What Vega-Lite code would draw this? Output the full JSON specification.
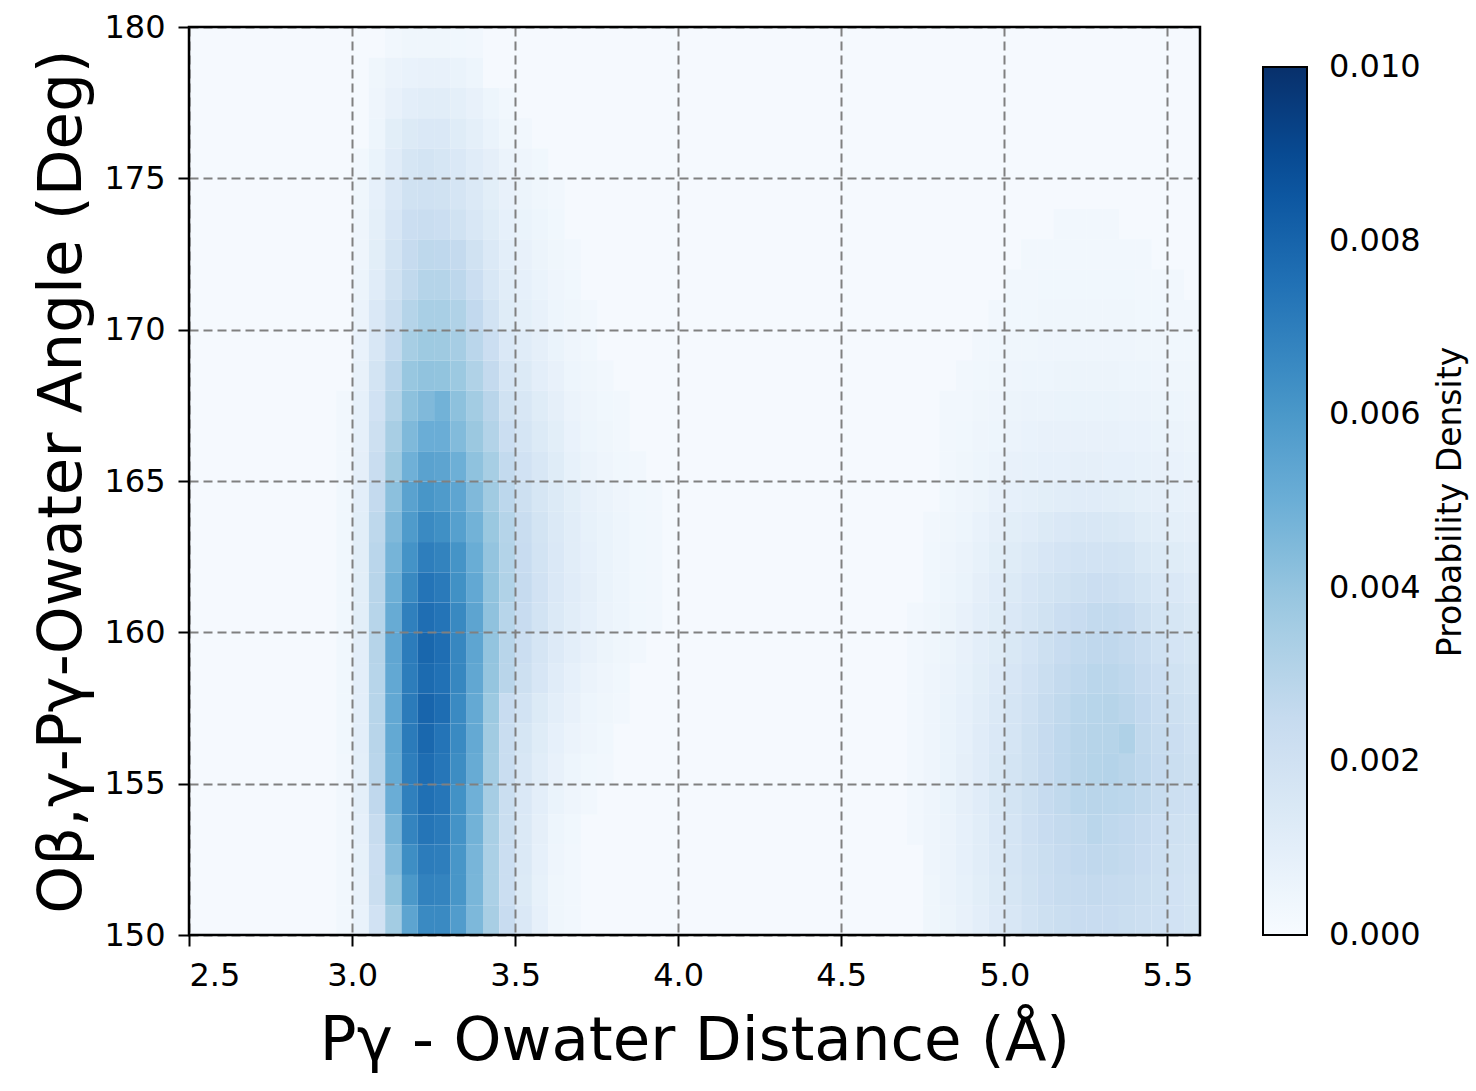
{
"$schema": "https://vega.github.io/schema/vega-lite/v6.json",
"width": 1011, "height": 908,
"autosize": "none",
"padding": {"left": 189, "top": 27, "right": 276, "bottom": 156},
"background": "white",
"config": {"font": "DejaVu Sans", "view": {"fill": "#f5f9fe", "stroke": "#000000", "strokeWidth": 2.5}, "style": {"cell": {"strokeForeground": true}}},
"data": {"values": [
{"x":3.1,"y":179,"v":0.0003},{"x":3.15,"y":179,"v":0.0004},{"x":3.2,"y":179,"v":0.0004},{"x":3.25,"y":179,"v":0.0004},{"x":3.3,"y":179,"v":0.00035},{"x":3.35,"y":179,"v":0.0003},
{"x":3.05,"y":178,"v":0.0004},{"x":3.1,"y":178,"v":0.0006},{"x":3.15,"y":178,"v":0.0007},{"x":3.2,"y":178,"v":0.00075},{"x":3.25,"y":178,"v":0.00075},{"x":3.3,"y":178,"v":0.00065},{"x":3.35,"y":178,"v":0.0005},
{"x":3.05,"y":177,"v":0.00045},{"x":3.1,"y":177,"v":0.00075},{"x":3.15,"y":177,"v":0.001},{"x":3.2,"y":177,"v":0.0011},{"x":3.25,"y":177,"v":0.0011},{"x":3.3,"y":177,"v":0.00095},{"x":3.35,"y":177,"v":0.00075},{"x":3.4,"y":177,"v":0.0005},{"x":3.45,"y":177,"v":0.0003},
{"x":3.05,"y":176,"v":0.0005},{"x":3.1,"y":176,"v":0.00105},{"x":3.15,"y":176,"v":0.00135},{"x":3.2,"y":176,"v":0.00146},{"x":3.25,"y":176,"v":0.00146},{"x":3.3,"y":176,"v":0.0012},{"x":3.35,"y":176,"v":0.00095},{"x":3.4,"y":176,"v":0.00065},{"x":3.45,"y":176,"v":0.0004},{"x":3.5,"y":176,"v":0.0003},
{"x":3.0,"y":175,"v":0.0003},{"x":3.05,"y":175,"v":0.00065},{"x":3.1,"y":175,"v":0.00115},{"x":3.15,"y":175,"v":0.00167},{"x":3.2,"y":175,"v":0.0018},{"x":3.25,"y":175,"v":0.00167},{"x":3.3,"y":175,"v":0.00146},{"x":3.35,"y":175,"v":0.00115},{"x":3.4,"y":175,"v":0.0009},{"x":3.45,"y":175,"v":0.0006},{"x":3.5,"y":175,"v":0.00045},{"x":3.55,"y":175,"v":0.00035},
{"x":3.0,"y":174,"v":0.0004},{"x":3.05,"y":174,"v":0.00085},{"x":3.1,"y":174,"v":0.00146},{"x":3.15,"y":174,"v":0.00198},{"x":3.2,"y":174,"v":0.00203},{"x":3.25,"y":174,"v":0.00198},{"x":3.3,"y":174,"v":0.00172},{"x":3.35,"y":174,"v":0.0014},{"x":3.4,"y":174,"v":0.00105},{"x":3.45,"y":174,"v":0.00075},{"x":3.5,"y":174,"v":0.00055},{"x":3.55,"y":174,"v":0.0004},{"x":3.6,"y":174,"v":0.0003},
{"x":3.0,"y":173,"v":0.00045},{"x":3.05,"y":173,"v":0.00095},{"x":3.1,"y":173,"v":0.00162},{"x":3.15,"y":173,"v":0.00224},{"x":3.2,"y":173,"v":0.00234},{"x":3.25,"y":173,"v":0.00224},{"x":3.3,"y":173,"v":0.00198},{"x":3.35,"y":173,"v":0.00156},{"x":3.4,"y":173,"v":0.0012},{"x":3.45,"y":173,"v":0.00085},{"x":3.5,"y":173,"v":0.00065},{"x":3.55,"y":173,"v":0.0005},{"x":3.6,"y":173,"v":0.00035},
{"x":3.0,"y":172,"v":0.00045},{"x":3.05,"y":172,"v":0.00105},{"x":3.1,"y":172,"v":0.00182},{"x":3.15,"y":172,"v":0.0025},{"x":3.2,"y":172,"v":0.00275},{"x":3.25,"y":172,"v":0.00272},{"x":3.3,"y":172,"v":0.00256},{"x":3.35,"y":172,"v":0.00198},{"x":3.4,"y":172,"v":0.0014},{"x":3.45,"y":172,"v":0.001},{"x":3.5,"y":172,"v":0.00075},{"x":3.55,"y":172,"v":0.00055},{"x":3.6,"y":172,"v":0.0004},{"x":3.65,"y":172,"v":0.0003},
{"x":3.0,"y":171,"v":0.00055},{"x":3.05,"y":171,"v":0.00115},{"x":3.1,"y":171,"v":0.00198},{"x":3.15,"y":171,"v":0.00266},{"x":3.2,"y":171,"v":0.00303},{"x":3.25,"y":171,"v":0.00303},{"x":3.3,"y":171,"v":0.00278},{"x":3.35,"y":171,"v":0.00224},{"x":3.4,"y":171,"v":0.00156},{"x":3.45,"y":171,"v":0.0011},{"x":3.5,"y":171,"v":0.00085},{"x":3.55,"y":171,"v":0.00065},{"x":3.6,"y":171,"v":0.00045},{"x":3.65,"y":171,"v":0.00035},
{"x":3.0,"y":170,"v":0.0006},{"x":3.05,"y":170,"v":0.00146},{"x":3.1,"y":170,"v":0.00229},{"x":3.15,"y":170,"v":0.00303},{"x":3.2,"y":170,"v":0.00341},{"x":3.25,"y":170,"v":0.00341},{"x":3.3,"y":170,"v":0.00319},{"x":3.35,"y":170,"v":0.00263},{"x":3.4,"y":170,"v":0.00188},{"x":3.45,"y":170,"v":0.0012},{"x":3.5,"y":170,"v":0.00095},{"x":3.55,"y":170,"v":0.00075},{"x":3.6,"y":170,"v":0.0005},{"x":3.65,"y":170,"v":0.0004},{"x":3.7,"y":170,"v":0.0003},
{"x":3.0,"y":169,"v":0.0007},{"x":3.05,"y":169,"v":0.00156},{"x":3.1,"y":169,"v":0.0026},{"x":3.15,"y":169,"v":0.00347},{"x":3.2,"y":169,"v":0.00375},{"x":3.25,"y":169,"v":0.00372},{"x":3.3,"y":169,"v":0.0035},{"x":3.35,"y":169,"v":0.00288},{"x":3.4,"y":169,"v":0.00224},{"x":3.45,"y":169,"v":0.00146},{"x":3.5,"y":169,"v":0.00115},{"x":3.55,"y":169,"v":0.0009},{"x":3.6,"y":169,"v":0.00065},{"x":3.65,"y":169,"v":0.00045},{"x":3.7,"y":169,"v":0.00035},
{"x":3.0,"y":168,"v":0.00075},{"x":3.05,"y":168,"v":0.00182},{"x":3.1,"y":168,"v":0.00288},{"x":3.15,"y":168,"v":0.0039},{"x":3.2,"y":168,"v":0.00407},{"x":3.25,"y":168,"v":0.00404},{"x":3.3,"y":168,"v":0.0038},{"x":3.35,"y":168,"v":0.00319},{"x":3.4,"y":168,"v":0.00256},{"x":3.45,"y":168,"v":0.00172},{"x":3.5,"y":168,"v":0.00135},{"x":3.55,"y":168,"v":0.001},{"x":3.6,"y":168,"v":0.00075},{"x":3.65,"y":168,"v":0.0005},{"x":3.7,"y":168,"v":0.0004},{"x":3.75,"y":168,"v":0.0003},
{"x":2.95,"y":167,"v":0.0003},{"x":3.0,"y":167,"v":0.00085},{"x":3.05,"y":167,"v":0.00193},{"x":3.1,"y":167,"v":0.00309},{"x":3.15,"y":167,"v":0.00417},{"x":3.2,"y":167,"v":0.00449},{"x":3.25,"y":167,"v":0.00483},{"x":3.3,"y":167,"v":0.00417},{"x":3.35,"y":167,"v":0.00359},{"x":3.4,"y":167,"v":0.00291},{"x":3.45,"y":167,"v":0.00198},{"x":3.5,"y":167,"v":0.00156},{"x":3.55,"y":167,"v":0.0012},{"x":3.6,"y":167,"v":0.0009},{"x":3.65,"y":167,"v":0.0006},{"x":3.7,"y":167,"v":0.00045},{"x":3.75,"y":167,"v":0.00035},{"x":3.8,"y":167,"v":0.0003},
{"x":2.95,"y":166,"v":0.0003},{"x":3.0,"y":166,"v":0.00085},{"x":3.05,"y":166,"v":0.00214},{"x":3.1,"y":166,"v":0.00344},{"x":3.15,"y":166,"v":0.00451},{"x":3.2,"y":166,"v":0.00503},{"x":3.25,"y":166,"v":0.00503},{"x":3.3,"y":166,"v":0.00444},{"x":3.35,"y":166,"v":0.00382},{"x":3.4,"y":166,"v":0.00309},{"x":3.45,"y":166,"v":0.00224},{"x":3.5,"y":166,"v":0.00172},{"x":3.55,"y":166,"v":0.00135},{"x":3.6,"y":166,"v":0.00105},{"x":3.65,"y":166,"v":0.0007},{"x":3.7,"y":166,"v":0.0005},{"x":3.75,"y":166,"v":0.0004},{"x":3.8,"y":166,"v":0.0003},
{"x":2.95,"y":165,"v":0.0003},{"x":3.0,"y":165,"v":0.0009},{"x":3.05,"y":165,"v":0.00234},{"x":3.1,"y":165,"v":0.00372},{"x":3.15,"y":165,"v":0.0049},{"x":3.2,"y":165,"v":0.00552},{"x":3.25,"y":165,"v":0.00543},{"x":3.3,"y":165,"v":0.00495},{"x":3.35,"y":165,"v":0.00412},{"x":3.4,"y":165,"v":0.00347},{"x":3.45,"y":165,"v":0.0026},{"x":3.5,"y":165,"v":0.00193},{"x":3.55,"y":165,"v":0.00156},{"x":3.6,"y":165,"v":0.0012},{"x":3.65,"y":165,"v":0.0008},{"x":3.7,"y":165,"v":0.0006},{"x":3.75,"y":165,"v":0.00045},{"x":3.8,"y":165,"v":0.00035},{"x":3.85,"y":165,"v":0.0003},
{"x":2.95,"y":164,"v":0.00035},{"x":3.0,"y":164,"v":0.001},{"x":3.05,"y":164,"v":0.00256},{"x":3.1,"y":164,"v":0.00419},{"x":3.15,"y":164,"v":0.00552},{"x":3.2,"y":164,"v":0.00607},{"x":3.25,"y":164,"v":0.00585},{"x":3.3,"y":164,"v":0.0054},{"x":3.35,"y":164,"v":0.00449},{"x":3.4,"y":164,"v":0.00366},{"x":3.45,"y":164,"v":0.00281},{"x":3.5,"y":164,"v":0.00214},{"x":3.55,"y":164,"v":0.00167},{"x":3.6,"y":164,"v":0.00135},{"x":3.65,"y":164,"v":0.00105},{"x":3.7,"y":164,"v":0.00075},{"x":3.75,"y":164,"v":0.0006},{"x":3.8,"y":164,"v":0.00045},{"x":3.85,"y":164,"v":0.00035},{"x":3.9,"y":164,"v":0.0003},
{"x":2.95,"y":163,"v":0.00035},{"x":3.0,"y":163,"v":0.00105},{"x":3.05,"y":163,"v":0.00275},{"x":3.1,"y":163,"v":0.00449},{"x":3.15,"y":163,"v":0.00585},{"x":3.2,"y":163,"v":0.00655},{"x":3.25,"y":163,"v":0.00633},{"x":3.3,"y":163,"v":0.00564},{"x":3.35,"y":163,"v":0.00483},{"x":3.4,"y":163,"v":0.00385},{"x":3.45,"y":163,"v":0.00303},{"x":3.5,"y":163,"v":0.00234},{"x":3.55,"y":163,"v":0.00182},{"x":3.6,"y":163,"v":0.0014},{"x":3.65,"y":163,"v":0.0011},{"x":3.7,"y":163,"v":0.0008},{"x":3.75,"y":163,"v":0.00065},{"x":3.8,"y":163,"v":0.0005},{"x":3.85,"y":163,"v":0.00035},{"x":3.9,"y":163,"v":0.0003},
{"x":2.95,"y":162,"v":0.00035},{"x":3.0,"y":162,"v":0.00105},{"x":3.05,"y":162,"v":0.00288},{"x":3.1,"y":162,"v":0.00473},{"x":3.15,"y":162,"v":0.00619},{"x":3.2,"y":162,"v":0.00701},{"x":3.25,"y":162,"v":0.00682},{"x":3.3,"y":162,"v":0.00616},{"x":3.35,"y":162,"v":0.00506},{"x":3.4,"y":162,"v":0.004},{"x":3.45,"y":162,"v":0.00309},{"x":3.5,"y":162,"v":0.0024},{"x":3.55,"y":162,"v":0.00188},{"x":3.6,"y":162,"v":0.00146},{"x":3.65,"y":162,"v":0.0011},{"x":3.7,"y":162,"v":0.00085},{"x":3.75,"y":162,"v":0.00065},{"x":3.8,"y":162,"v":0.0005},{"x":3.85,"y":162,"v":0.00035},{"x":3.9,"y":162,"v":0.0003},
{"x":2.95,"y":161,"v":0.00035},{"x":3.0,"y":161,"v":0.00105},{"x":3.05,"y":161,"v":0.00294},{"x":3.1,"y":161,"v":0.00495},{"x":3.15,"y":161,"v":0.00659},{"x":3.2,"y":161,"v":0.00738},{"x":3.25,"y":161,"v":0.00716},{"x":3.3,"y":161,"v":0.00629},{"x":3.35,"y":161,"v":0.00527},{"x":3.4,"y":161,"v":0.00407},{"x":3.45,"y":161,"v":0.00319},{"x":3.5,"y":161,"v":0.0025},{"x":3.55,"y":161,"v":0.00193},{"x":3.6,"y":161,"v":0.00146},{"x":3.65,"y":161,"v":0.00115},{"x":3.7,"y":161,"v":0.0009},{"x":3.75,"y":161,"v":0.00065},{"x":3.8,"y":161,"v":0.0005},{"x":3.85,"y":161,"v":0.00035},{"x":3.9,"y":161,"v":0.0003},
{"x":2.95,"y":160,"v":0.00035},{"x":3.0,"y":160,"v":0.00105},{"x":3.05,"y":160,"v":0.00297},{"x":3.1,"y":160,"v":0.00512},{"x":3.15,"y":160,"v":0.00693},{"x":3.2,"y":160,"v":0.0076},{"x":3.25,"y":160,"v":0.00738},{"x":3.3,"y":160,"v":0.00659},{"x":3.35,"y":160,"v":0.00543},{"x":3.4,"y":160,"v":0.00409},{"x":3.45,"y":160,"v":0.00297},{"x":3.5,"y":160,"v":0.0024},{"x":3.55,"y":160,"v":0.00188},{"x":3.6,"y":160,"v":0.0014},{"x":3.65,"y":160,"v":0.0011},{"x":3.7,"y":160,"v":0.00085},{"x":3.75,"y":160,"v":0.0006},{"x":3.8,"y":160,"v":0.0005},{"x":3.85,"y":160,"v":0.00035},{"x":3.9,"y":160,"v":0.0003},
{"x":2.95,"y":159,"v":0.00035},{"x":3.0,"y":159,"v":0.001},{"x":3.05,"y":159,"v":0.003},{"x":3.1,"y":159,"v":0.00534},{"x":3.15,"y":159,"v":0.00708},{"x":3.2,"y":159,"v":0.0079},{"x":3.25,"y":159,"v":0.0076},{"x":3.3,"y":159,"v":0.00667},{"x":3.35,"y":159,"v":0.0054},{"x":3.4,"y":159,"v":0.00402},{"x":3.45,"y":159,"v":0.00294},{"x":3.5,"y":159,"v":0.00224},{"x":3.55,"y":159,"v":0.00172},{"x":3.6,"y":159,"v":0.0013},{"x":3.65,"y":159,"v":0.001},{"x":3.7,"y":159,"v":0.00075},{"x":3.75,"y":159,"v":0.00055},{"x":3.8,"y":159,"v":0.0004},{"x":3.85,"y":159,"v":0.0003},
{"x":2.95,"y":158,"v":0.00035},{"x":3.0,"y":158,"v":0.001},{"x":3.05,"y":158,"v":0.00297},{"x":3.1,"y":158,"v":0.00527},{"x":3.15,"y":158,"v":0.00705},{"x":3.2,"y":158,"v":0.00775},{"x":3.25,"y":158,"v":0.0075},{"x":3.3,"y":158,"v":0.00667},{"x":3.35,"y":158,"v":0.0053},{"x":3.4,"y":158,"v":0.00397},{"x":3.45,"y":158,"v":0.00291},{"x":3.5,"y":158,"v":0.00214},{"x":3.55,"y":158,"v":0.00162},{"x":3.6,"y":158,"v":0.00115},{"x":3.65,"y":158,"v":0.00085},{"x":3.7,"y":158,"v":0.0006},{"x":3.75,"y":158,"v":0.00045},{"x":3.8,"y":158,"v":0.00035},
{"x":2.95,"y":157,"v":0.00035},{"x":3.0,"y":157,"v":0.001},{"x":3.05,"y":157,"v":0.00297},{"x":3.1,"y":157,"v":0.00527},{"x":3.15,"y":157,"v":0.00712},{"x":3.2,"y":157,"v":0.00795},{"x":3.25,"y":157,"v":0.00765},{"x":3.3,"y":157,"v":0.00655},{"x":3.35,"y":157,"v":0.00521},{"x":3.4,"y":157,"v":0.0038},{"x":3.45,"y":157,"v":0.0024},{"x":3.5,"y":157,"v":0.00188},{"x":3.55,"y":157,"v":0.00135},{"x":3.6,"y":157,"v":0.001},{"x":3.65,"y":157,"v":0.00075},{"x":3.7,"y":157,"v":0.0005},{"x":3.75,"y":157,"v":0.0004},{"x":3.8,"y":157,"v":0.0003},
{"x":2.95,"y":156,"v":0.00035},{"x":3.0,"y":156,"v":0.001},{"x":3.05,"y":156,"v":0.00294},{"x":3.1,"y":156,"v":0.00524},{"x":3.15,"y":156,"v":0.00712},{"x":3.2,"y":156,"v":0.00785},{"x":3.25,"y":156,"v":0.00738},{"x":3.3,"y":156,"v":0.00655},{"x":3.35,"y":156,"v":0.00521},{"x":3.4,"y":156,"v":0.00366},{"x":3.45,"y":156,"v":0.00234},{"x":3.5,"y":156,"v":0.00167},{"x":3.55,"y":156,"v":0.0012},{"x":3.6,"y":156,"v":0.00085},{"x":3.65,"y":156,"v":0.0006},{"x":3.7,"y":156,"v":0.00045},{"x":3.75,"y":156,"v":0.00035},
{"x":2.95,"y":155,"v":0.0003},{"x":3.0,"y":155,"v":0.00095},{"x":3.05,"y":155,"v":0.00288},{"x":3.1,"y":155,"v":0.00515},{"x":3.15,"y":155,"v":0.00701},{"x":3.2,"y":155,"v":0.00765},{"x":3.25,"y":155,"v":0.00731},{"x":3.3,"y":155,"v":0.00644},{"x":3.35,"y":155,"v":0.00512},{"x":3.4,"y":155,"v":0.00359},{"x":3.45,"y":155,"v":0.00234},{"x":3.5,"y":155,"v":0.00156},{"x":3.55,"y":155,"v":0.0011},{"x":3.6,"y":155,"v":0.00075},{"x":3.65,"y":155,"v":0.0005},{"x":3.7,"y":155,"v":0.00035},{"x":3.75,"y":155,"v":0.0003},
{"x":2.95,"y":154,"v":0.0003},{"x":3.0,"y":154,"v":0.00095},{"x":3.05,"y":154,"v":0.00269},{"x":3.1,"y":154,"v":0.00503},{"x":3.15,"y":154,"v":0.00693},{"x":3.2,"y":154,"v":0.00755},{"x":3.25,"y":154,"v":0.00731},{"x":3.3,"y":154,"v":0.00625},{"x":3.35,"y":154,"v":0.0049},{"x":3.4,"y":154,"v":0.0035},{"x":3.45,"y":154,"v":0.00229},{"x":3.5,"y":154,"v":0.00146},{"x":3.55,"y":154,"v":0.001},{"x":3.6,"y":154,"v":0.00065},{"x":3.65,"y":154,"v":0.00045},{"x":3.7,"y":154,"v":0.0003},
{"x":2.95,"y":153,"v":0.0003},{"x":3.0,"y":153,"v":0.00085},{"x":3.05,"y":153,"v":0.00245},{"x":3.1,"y":153,"v":0.00463},{"x":3.15,"y":153,"v":0.00678},{"x":3.2,"y":153,"v":0.00734},{"x":3.25,"y":153,"v":0.00716},{"x":3.3,"y":153,"v":0.00619},{"x":3.35,"y":153,"v":0.00483},{"x":3.4,"y":153,"v":0.00341},{"x":3.45,"y":153,"v":0.00229},{"x":3.5,"y":153,"v":0.0014},{"x":3.55,"y":153,"v":0.0009},{"x":3.6,"y":153,"v":0.0005},{"x":3.65,"y":153,"v":0.00035},
{"x":2.95,"y":152,"v":0.0003},{"x":3.0,"y":152,"v":0.0008},{"x":3.05,"y":152,"v":0.00224},{"x":3.1,"y":152,"v":0.00436},{"x":3.15,"y":152,"v":0.0064},{"x":3.2,"y":152,"v":0.00708},{"x":3.25,"y":152,"v":0.00701},{"x":3.3,"y":152,"v":0.00607},{"x":3.35,"y":152,"v":0.00468},{"x":3.4,"y":152,"v":0.00334},{"x":3.45,"y":152,"v":0.00224},{"x":3.5,"y":152,"v":0.0014},{"x":3.55,"y":152,"v":0.00085},{"x":3.6,"y":152,"v":0.00045},{"x":3.65,"y":152,"v":0.0003},
{"x":2.95,"y":151,"v":0.0003},{"x":3.0,"y":151,"v":0.00075},{"x":3.05,"y":151,"v":0.00229},{"x":3.1,"y":151,"v":0.00404},{"x":3.15,"y":151,"v":0.00598},{"x":3.2,"y":151,"v":0.00686},{"x":3.25,"y":151,"v":0.00678},{"x":3.3,"y":151,"v":0.00607},{"x":3.35,"y":151,"v":0.00466},{"x":3.4,"y":151,"v":0.00334},{"x":3.45,"y":151,"v":0.00224},{"x":3.5,"y":151,"v":0.00135},{"x":3.55,"y":151,"v":0.0008},{"x":3.6,"y":151,"v":0.0004},{"x":3.65,"y":151,"v":0.0003},
{"x":2.95,"y":150,"v":0.0003},{"x":3.0,"y":150,"v":0.0007},{"x":3.05,"y":150,"v":0.00193},{"x":3.1,"y":150,"v":0.00359},{"x":3.15,"y":150,"v":0.00543},{"x":3.2,"y":150,"v":0.00655},{"x":3.25,"y":150,"v":0.00655},{"x":3.3,"y":150,"v":0.00579},{"x":3.35,"y":150,"v":0.00456},{"x":3.4,"y":150,"v":0.00344},{"x":3.45,"y":150,"v":0.0024},{"x":3.5,"y":150,"v":0.00146},{"x":3.55,"y":150,"v":0.00085},{"x":3.6,"y":150,"v":0.0004},{"x":3.65,"y":150,"v":0.0003},
{"x":5.15,"y":173,"v":0.0003},{"x":5.2,"y":173,"v":0.0003},{"x":5.25,"y":173,"v":0.0003},{"x":5.3,"y":173,"v":0.0003},
{"x":5.05,"y":172,"v":0.0003},{"x":5.1,"y":172,"v":0.0003},{"x":5.15,"y":172,"v":0.0003},{"x":5.2,"y":172,"v":0.0003},{"x":5.25,"y":172,"v":0.0003},{"x":5.3,"y":172,"v":0.0003},{"x":5.35,"y":172,"v":0.0003},{"x":5.4,"y":172,"v":0.0003},
{"x":5.0,"y":171,"v":0.0003},{"x":5.05,"y":171,"v":0.0003},{"x":5.1,"y":171,"v":0.00035},{"x":5.15,"y":171,"v":0.00035},{"x":5.2,"y":171,"v":0.00035},{"x":5.25,"y":171,"v":0.00035},{"x":5.3,"y":171,"v":0.00035},{"x":5.35,"y":171,"v":0.00035},{"x":5.4,"y":171,"v":0.0003},{"x":5.45,"y":171,"v":0.0003},{"x":5.5,"y":171,"v":0.0003},
{"x":4.95,"y":170,"v":0.0003},{"x":5.0,"y":170,"v":0.00035},{"x":5.05,"y":170,"v":0.00035},{"x":5.1,"y":170,"v":0.0004},{"x":5.15,"y":170,"v":0.0004},{"x":5.2,"y":170,"v":0.0004},{"x":5.25,"y":170,"v":0.0004},{"x":5.3,"y":170,"v":0.0004},{"x":5.35,"y":170,"v":0.0004},{"x":5.4,"y":170,"v":0.00035},{"x":5.45,"y":170,"v":0.00035},{"x":5.5,"y":170,"v":0.0003},{"x":5.55,"y":170,"v":0.0003},
{"x":4.9,"y":169,"v":0.0003},{"x":4.95,"y":169,"v":0.00035},{"x":5.0,"y":169,"v":0.0004},{"x":5.05,"y":169,"v":0.0004},{"x":5.1,"y":169,"v":0.00045},{"x":5.15,"y":169,"v":0.00045},{"x":5.2,"y":169,"v":0.00045},{"x":5.25,"y":169,"v":0.00045},{"x":5.3,"y":169,"v":0.00045},{"x":5.35,"y":169,"v":0.00045},{"x":5.4,"y":169,"v":0.0004},{"x":5.45,"y":169,"v":0.0004},{"x":5.5,"y":169,"v":0.00035},{"x":5.55,"y":169,"v":0.00035},
{"x":4.85,"y":168,"v":0.0003},{"x":4.9,"y":168,"v":0.00035},{"x":4.95,"y":168,"v":0.0004},{"x":5.0,"y":168,"v":0.00045},{"x":5.05,"y":168,"v":0.0005},{"x":5.1,"y":168,"v":0.0005},{"x":5.15,"y":168,"v":0.00055},{"x":5.2,"y":168,"v":0.00055},{"x":5.25,"y":168,"v":0.00055},{"x":5.3,"y":168,"v":0.00055},{"x":5.35,"y":168,"v":0.0005},{"x":5.4,"y":168,"v":0.0005},{"x":5.45,"y":168,"v":0.00045},{"x":5.5,"y":168,"v":0.0004},{"x":5.55,"y":168,"v":0.0004},
{"x":4.8,"y":167,"v":0.0003},{"x":4.85,"y":167,"v":0.0003},{"x":4.9,"y":167,"v":0.0004},{"x":4.95,"y":167,"v":0.00045},{"x":5.0,"y":167,"v":0.00055},{"x":5.05,"y":167,"v":0.0006},{"x":5.1,"y":167,"v":0.0006},{"x":5.15,"y":167,"v":0.00065},{"x":5.2,"y":167,"v":0.00065},{"x":5.25,"y":167,"v":0.00065},{"x":5.3,"y":167,"v":0.00065},{"x":5.35,"y":167,"v":0.0006},{"x":5.4,"y":167,"v":0.0006},{"x":5.45,"y":167,"v":0.00055},{"x":5.5,"y":167,"v":0.0005},{"x":5.55,"y":167,"v":0.00045},
{"x":4.8,"y":166,"v":0.0003},{"x":4.85,"y":166,"v":0.00035},{"x":4.9,"y":166,"v":0.00045},{"x":4.95,"y":166,"v":0.0005},{"x":5.0,"y":166,"v":0.0006},{"x":5.05,"y":166,"v":0.0007},{"x":5.1,"y":166,"v":0.00075},{"x":5.15,"y":166,"v":0.00075},{"x":5.2,"y":166,"v":0.00075},{"x":5.25,"y":166,"v":0.00075},{"x":5.3,"y":166,"v":0.00075},{"x":5.35,"y":166,"v":0.0007},{"x":5.4,"y":166,"v":0.0007},{"x":5.45,"y":166,"v":0.00065},{"x":5.5,"y":166,"v":0.0006},{"x":5.55,"y":166,"v":0.00055},
{"x":4.8,"y":165,"v":0.0003},{"x":4.85,"y":165,"v":0.0004},{"x":4.9,"y":165,"v":0.0005},{"x":4.95,"y":165,"v":0.0006},{"x":5.0,"y":165,"v":0.00075},{"x":5.05,"y":165,"v":0.0008},{"x":5.1,"y":165,"v":0.00085},{"x":5.15,"y":165,"v":0.00085},{"x":5.2,"y":165,"v":0.0009},{"x":5.25,"y":165,"v":0.0009},{"x":5.3,"y":165,"v":0.00085},{"x":5.35,"y":165,"v":0.00085},{"x":5.4,"y":165,"v":0.0008},{"x":5.45,"y":165,"v":0.00075},{"x":5.5,"y":165,"v":0.0007},{"x":5.55,"y":165,"v":0.00065},
{"x":4.8,"y":164,"v":0.00035},{"x":4.85,"y":164,"v":0.00045},{"x":4.9,"y":164,"v":0.00055},{"x":4.95,"y":164,"v":0.00075},{"x":5.0,"y":164,"v":0.00085},{"x":5.05,"y":164,"v":0.00095},{"x":5.1,"y":164,"v":0.00105},{"x":5.15,"y":164,"v":0.0011},{"x":5.2,"y":164,"v":0.00115},{"x":5.25,"y":164,"v":0.00115},{"x":5.3,"y":164,"v":0.0011},{"x":5.35,"y":164,"v":0.00105},{"x":5.4,"y":164,"v":0.00095},{"x":5.45,"y":164,"v":0.0009},{"x":5.5,"y":164,"v":0.0008},{"x":5.55,"y":164,"v":0.00075},
{"x":4.75,"y":163,"v":0.0003},{"x":4.8,"y":163,"v":0.0004},{"x":4.85,"y":163,"v":0.0005},{"x":4.9,"y":163,"v":0.0007},{"x":4.95,"y":163,"v":0.0009},{"x":5.0,"y":163,"v":0.00105},{"x":5.05,"y":163,"v":0.00115},{"x":5.1,"y":163,"v":0.00135},{"x":5.15,"y":163,"v":0.00146},{"x":5.2,"y":163,"v":0.00156},{"x":5.25,"y":163,"v":0.00156},{"x":5.3,"y":163,"v":0.00151},{"x":5.35,"y":163,"v":0.0014},{"x":5.4,"y":163,"v":0.0012},{"x":5.45,"y":163,"v":0.0011},{"x":5.5,"y":163,"v":0.00095},{"x":5.55,"y":163,"v":0.0009},
{"x":4.75,"y":162,"v":0.00035},{"x":4.8,"y":162,"v":0.00045},{"x":4.85,"y":162,"v":0.0006},{"x":4.9,"y":162,"v":0.0008},{"x":4.95,"y":162,"v":0.00105},{"x":5.0,"y":162,"v":0.0012},{"x":5.05,"y":162,"v":0.0014},{"x":5.1,"y":162,"v":0.00162},{"x":5.15,"y":162,"v":0.00177},{"x":5.2,"y":162,"v":0.00188},{"x":5.25,"y":162,"v":0.00188},{"x":5.3,"y":162,"v":0.00188},{"x":5.35,"y":162,"v":0.00182},{"x":5.4,"y":162,"v":0.00151},{"x":5.45,"y":162,"v":0.00135},{"x":5.5,"y":162,"v":0.0012},{"x":5.55,"y":162,"v":0.0011},
{"x":4.75,"y":161,"v":0.00035},{"x":4.8,"y":161,"v":0.0005},{"x":4.85,"y":161,"v":0.00065},{"x":4.9,"y":161,"v":0.0009},{"x":4.95,"y":161,"v":0.00115},{"x":5.0,"y":161,"v":0.00135},{"x":5.05,"y":161,"v":0.00162},{"x":5.1,"y":161,"v":0.00182},{"x":5.15,"y":161,"v":0.00198},{"x":5.2,"y":161,"v":0.00214},{"x":5.25,"y":161,"v":0.00224},{"x":5.3,"y":161,"v":0.00219},{"x":5.35,"y":161,"v":0.00203},{"x":5.4,"y":161,"v":0.00182},{"x":5.45,"y":161,"v":0.00156},{"x":5.5,"y":161,"v":0.00146},{"x":5.55,"y":161,"v":0.0013},
{"x":4.7,"y":160,"v":0.0003},{"x":4.75,"y":160,"v":0.0004},{"x":4.8,"y":160,"v":0.00055},{"x":4.85,"y":160,"v":0.00075},{"x":4.9,"y":160,"v":0.001},{"x":4.95,"y":160,"v":0.0012},{"x":5.0,"y":160,"v":0.00146},{"x":5.05,"y":160,"v":0.00172},{"x":5.1,"y":160,"v":0.00198},{"x":5.15,"y":160,"v":0.00224},{"x":5.2,"y":160,"v":0.0024},{"x":5.25,"y":160,"v":0.0026},{"x":5.3,"y":160,"v":0.0026},{"x":5.35,"y":160,"v":0.0025},{"x":5.4,"y":160,"v":0.00214},{"x":5.45,"y":160,"v":0.00182},{"x":5.5,"y":160,"v":0.00167},{"x":5.55,"y":160,"v":0.00151},
{"x":4.7,"y":159,"v":0.0003},{"x":4.75,"y":159,"v":0.0004},{"x":4.8,"y":159,"v":0.00055},{"x":4.85,"y":159,"v":0.00075},{"x":4.9,"y":159,"v":0.001},{"x":4.95,"y":159,"v":0.0012},{"x":5.0,"y":159,"v":0.00151},{"x":5.05,"y":159,"v":0.00177},{"x":5.1,"y":159,"v":0.00214},{"x":5.15,"y":159,"v":0.0024},{"x":5.2,"y":159,"v":0.0026},{"x":5.25,"y":159,"v":0.00269},{"x":5.3,"y":159,"v":0.00269},{"x":5.35,"y":159,"v":0.00256},{"x":5.4,"y":159,"v":0.00234},{"x":5.45,"y":159,"v":0.00203},{"x":5.5,"y":159,"v":0.00177},{"x":5.55,"y":159,"v":0.00167},
{"x":4.7,"y":158,"v":0.0003},{"x":4.75,"y":158,"v":0.00045},{"x":4.8,"y":158,"v":0.0006},{"x":4.85,"y":158,"v":0.0008},{"x":4.9,"y":158,"v":0.00105},{"x":4.95,"y":158,"v":0.0013},{"x":5.0,"y":158,"v":0.00162},{"x":5.05,"y":158,"v":0.00193},{"x":5.1,"y":158,"v":0.00229},{"x":5.15,"y":158,"v":0.00256},{"x":5.2,"y":158,"v":0.00272},{"x":5.25,"y":158,"v":0.00288},{"x":5.3,"y":158,"v":0.00285},{"x":5.35,"y":158,"v":0.00272},{"x":5.4,"y":158,"v":0.0025},{"x":5.45,"y":158,"v":0.00224},{"x":5.5,"y":158,"v":0.00198},{"x":5.55,"y":158,"v":0.00182},
{"x":4.7,"y":157,"v":0.0003},{"x":4.75,"y":157,"v":0.00045},{"x":4.8,"y":157,"v":0.00065},{"x":4.85,"y":157,"v":0.00085},{"x":4.9,"y":157,"v":0.0011},{"x":4.95,"y":157,"v":0.0014},{"x":5.0,"y":157,"v":0.00172},{"x":5.05,"y":157,"v":0.00203},{"x":5.1,"y":157,"v":0.00245},{"x":5.15,"y":157,"v":0.00266},{"x":5.2,"y":157,"v":0.00288},{"x":5.25,"y":157,"v":0.00297},{"x":5.3,"y":157,"v":0.003},{"x":5.35,"y":157,"v":0.00285},{"x":5.4,"y":157,"v":0.00263},{"x":5.45,"y":157,"v":0.00234},{"x":5.5,"y":157,"v":0.00214},{"x":5.55,"y":157,"v":0.00198},
{"x":4.7,"y":156,"v":0.0003},{"x":4.75,"y":156,"v":0.00045},{"x":4.8,"y":156,"v":0.00065},{"x":4.85,"y":156,"v":0.00085},{"x":4.9,"y":156,"v":0.00115},{"x":4.95,"y":156,"v":0.00146},{"x":5.0,"y":156,"v":0.00172},{"x":5.05,"y":156,"v":0.00214},{"x":5.1,"y":156,"v":0.0025},{"x":5.15,"y":156,"v":0.00272},{"x":5.2,"y":156,"v":0.00291},{"x":5.25,"y":156,"v":0.003},{"x":5.3,"y":156,"v":0.003},{"x":5.35,"y":156,"v":0.00322},{"x":5.4,"y":156,"v":0.00266},{"x":5.45,"y":156,"v":0.00245},{"x":5.5,"y":156,"v":0.00224},{"x":5.55,"y":156,"v":0.00203},
{"x":4.7,"y":155,"v":0.0003},{"x":4.75,"y":155,"v":0.00045},{"x":4.8,"y":155,"v":0.00065},{"x":4.85,"y":155,"v":0.0009},{"x":4.9,"y":155,"v":0.00115},{"x":4.95,"y":155,"v":0.00151},{"x":5.0,"y":155,"v":0.00182},{"x":5.05,"y":155,"v":0.00214},{"x":5.1,"y":155,"v":0.0025},{"x":5.15,"y":155,"v":0.00272},{"x":5.2,"y":155,"v":0.00291},{"x":5.25,"y":155,"v":0.00303},{"x":5.3,"y":155,"v":0.00306},{"x":5.35,"y":155,"v":0.00291},{"x":5.4,"y":155,"v":0.00272},{"x":5.45,"y":155,"v":0.0025},{"x":5.5,"y":155,"v":0.00229},{"x":5.55,"y":155,"v":0.00214},
{"x":4.7,"y":154,"v":0.0003},{"x":4.75,"y":154,"v":0.00045},{"x":4.8,"y":154,"v":0.00065},{"x":4.85,"y":154,"v":0.0009},{"x":4.9,"y":154,"v":0.00115},{"x":4.95,"y":154,"v":0.00151},{"x":5.0,"y":154,"v":0.00182},{"x":5.05,"y":154,"v":0.00214},{"x":5.1,"y":154,"v":0.0025},{"x":5.15,"y":154,"v":0.00266},{"x":5.2,"y":154,"v":0.00288},{"x":5.25,"y":154,"v":0.00291},{"x":5.3,"y":154,"v":0.00288},{"x":5.35,"y":154,"v":0.00281},{"x":5.4,"y":154,"v":0.00266},{"x":5.45,"y":154,"v":0.00245},{"x":5.5,"y":154,"v":0.00219},{"x":5.55,"y":154,"v":0.00209},
{"x":4.7,"y":153,"v":0.0003},{"x":4.75,"y":153,"v":0.00045},{"x":4.8,"y":153,"v":0.0006},{"x":4.85,"y":153,"v":0.00085},{"x":4.9,"y":153,"v":0.0011},{"x":4.95,"y":153,"v":0.00146},{"x":5.0,"y":153,"v":0.00172},{"x":5.05,"y":153,"v":0.00209},{"x":5.1,"y":153,"v":0.0024},{"x":5.15,"y":153,"v":0.00256},{"x":5.2,"y":153,"v":0.00266},{"x":5.25,"y":153,"v":0.00288},{"x":5.3,"y":153,"v":0.00272},{"x":5.35,"y":153,"v":0.00263},{"x":5.4,"y":153,"v":0.0025},{"x":5.45,"y":153,"v":0.00224},{"x":5.5,"y":153,"v":0.00203},{"x":5.55,"y":153,"v":0.00198},
{"x":4.75,"y":152,"v":0.00045},{"x":4.8,"y":152,"v":0.0006},{"x":4.85,"y":152,"v":0.00085},{"x":4.9,"y":152,"v":0.0011},{"x":4.95,"y":152,"v":0.0014},{"x":5.0,"y":152,"v":0.00172},{"x":5.05,"y":152,"v":0.00203},{"x":5.1,"y":152,"v":0.00229},{"x":5.15,"y":152,"v":0.0025},{"x":5.2,"y":152,"v":0.00263},{"x":5.25,"y":152,"v":0.00269},{"x":5.3,"y":152,"v":0.00266},{"x":5.35,"y":152,"v":0.00256},{"x":5.4,"y":152,"v":0.0024},{"x":5.45,"y":152,"v":0.00219},{"x":5.5,"y":152,"v":0.00198},{"x":5.55,"y":152,"v":0.00188},
{"x":4.75,"y":151,"v":0.0004},{"x":4.8,"y":151,"v":0.0006},{"x":4.85,"y":151,"v":0.0008},{"x":4.9,"y":151,"v":0.00105},{"x":4.95,"y":151,"v":0.00135},{"x":5.0,"y":151,"v":0.00167},{"x":5.05,"y":151,"v":0.00198},{"x":5.1,"y":151,"v":0.00224},{"x":5.15,"y":151,"v":0.00245},{"x":5.2,"y":151,"v":0.0025},{"x":5.25,"y":151,"v":0.00256},{"x":5.3,"y":151,"v":0.0025},{"x":5.35,"y":151,"v":0.00245},{"x":5.4,"y":151,"v":0.00229},{"x":5.45,"y":151,"v":0.00214},{"x":5.5,"y":151,"v":0.00193},{"x":5.55,"y":151,"v":0.00182},
{"x":4.75,"y":150,"v":0.0004},{"x":4.8,"y":150,"v":0.00055},{"x":4.85,"y":150,"v":0.00075},{"x":4.9,"y":150,"v":0.001},{"x":4.95,"y":150,"v":0.0013},{"x":5.0,"y":150,"v":0.00156},{"x":5.05,"y":150,"v":0.00188},{"x":5.1,"y":150,"v":0.00214},{"x":5.15,"y":150,"v":0.00229},{"x":5.2,"y":150,"v":0.0024},{"x":5.25,"y":150,"v":0.0024},{"x":5.3,"y":150,"v":0.0024},{"x":5.35,"y":150,"v":0.00229},{"x":5.4,"y":150,"v":0.00219},{"x":5.45,"y":150,"v":0.00209},{"x":5.5,"y":150,"v":0.00193},{"x":5.55,"y":150,"v":0.00182}
]},
"mark": {"type": "rect"},
"encoding": {
  "x": {"field": "x", "type": "quantitative", "bin": {"binned": true, "step": 0.05},
        "scale": {"domain": [2.5, 5.6], "nice": false, "zero": false},
        "axis": {"values": [2.5, 3, 3.5, 4, 4.5, 5, 5.5], "format": ".1f", "labelFontSize": 32, "labelColor": "#000000",
                 "labelPadding": 14, "tickSize": 11, "tickWidth": 2, "tickColor": "#000000", "domain": false,
                 "grid": true, "gridColor": "#808080", "gridDash": [9, 5], "gridWidth": 2, "gridOpacity": 1, "zindex": 1,
                 "title": "Pγ - Owater Distance (Å)", "titleFontSize": 61, "titleFontWeight": "normal", "titleColor": "#000000", "titlePadding": 20}},
  "y": {"field": "y", "type": "quantitative", "bin": {"binned": true, "step": 1},
        "scale": {"domain": [150, 180], "nice": false, "zero": false},
        "axis": {"values": [150, 155, 160, 165, 170, 175, 180], "format": "d", "labelFontSize": 32, "labelColor": "#000000",
                 "labelPadding": 13, "tickSize": 11, "tickWidth": 2, "tickColor": "#000000", "domain": false,
                 "grid": true, "gridColor": "#808080", "gridDash": [9, 5], "gridWidth": 2, "gridOpacity": 1, "zindex": 1,
                 "title": "Oβ,γ-Pγ-Owater Angle (Deg)", "titleFontSize": 61, "titleFontWeight": "normal", "titleColor": "#000000", "titlePadding": 10}},
  "color": {"field": "v", "type": "quantitative",
        "scale": {"domain": [0, 0.00125, 0.0025, 0.00375, 0.005, 0.00625, 0.0075, 0.00875, 0.01],
                  "range": ["#f7fbff", "#deebf7", "#c6dbef", "#9ecae1", "#6baed6", "#4292c6", "#2171b5", "#08519c", "#08306b"],
                  "interpolate": "rgb"},
        "legend": {"orient": "none", "legendX": 1074, "legendY": 40, "direction": "vertical",
                   "gradientLength": 868, "gradientThickness": 44, "gradientStrokeColor": "#000000", "gradientStrokeWidth": 2,
                   "values": [0, 0.002, 0.004, 0.006, 0.008, 0.01], "format": ".3f",
                   "labelFontSize": 32, "labelColor": "#000000", "labelOffset": 22, "labelBaseline": "middle", "labelOverlap": false,
                   "title": "Probability Density", "titleOrient": "right", "titleFontSize": 33, "titleFontWeight": "normal",
                   "titleColor": "#000000", "titleAnchor": "middle", "titleBaseline": "top", "titlePadding": 14, "titleLimit": 900,
                   "encode": {"title": {"update": {"angle": {"value": -90}}},
                              "labels": {"update": {"y": {"signal": "(1 - datum.perc) * 868"}, "baseline": {"value": "middle"}}}}}}
}
}
